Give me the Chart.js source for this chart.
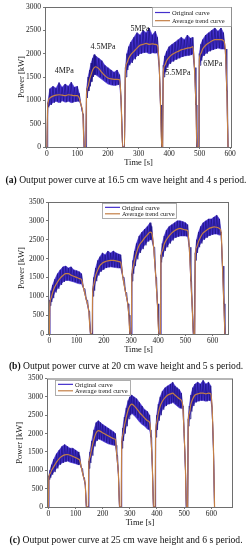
<!DOCTYPE html>
<html>
<head>
<meta charset="utf-8">
<script src="https://cdn.jsdelivr.net/npm/chart.js@4.4.1/dist/chart.umd.min.js"></script>
<style>
  html, body { margin: 0; padding: 0; background: #fff; }
  body { width: 252px; height: 550px; position: relative; overflow: hidden; font-family: "Liberation Serif", "DejaVu Serif", serif; }
  .plot { position: absolute; left: 0; }
  .cap { position: absolute; left: 0; width: 252px; text-align: center; font-size: 9.6px; line-height: 11px; color: #111; white-space: nowrap; }
</style>
</head>
<body>
<canvas id="chartA" class="plot" width="252" height="175" style="top:0"></canvas>
<div class="cap" style="top:174px"><b>(a)</b> Output power curve at 16.5 cm wave height and 4 s period.</div>
<canvas id="chartB" class="plot" width="252" height="175" style="top:185px"></canvas>
<div class="cap" style="top:360px"><b>(b)</b> Output power curve at 20 cm wave height and 5 s period.</div>
<canvas id="chartC" class="plot" width="252" height="160" style="top:372px"></canvas>
<div class="cap" style="top:534px"><b>(c)</b> Output power curve at 25 cm wave height and 6 s period.</div>

<script>
const SERIF = '"Liberation Serif", "DejaVu Serif", serif';

// (a) 16.5 cm, 4 s
const timeA = [0,3,10,20,30,40,50,60,70,80,90,100,106,112,118,122,
  127,130,135,140,145,150,155,160,170,180,190,200,210,220,230,238,243,248,
  254,257,262,268,275,285,295,305,315,325,335,345,355,362,368,372,376,
  379,381,386,392,400,410,420,430,440,450,460,470,478,483,488,491,
  497,499,504,510,520,530,540,550,560,570,578,584,589,593];
const trendA = [0,900,1050,1090,1110,1120,1110,1100,1120,1110,1100,1100,1050,900,700,0,
  0,1150,1300,1450,1550,1650,1700,1720,1680,1600,1530,1480,1460,1450,1450,1440,1000,0,
  0,1600,1800,1900,1980,2050,2120,2180,2200,2220,2200,2210,2200,2180,1700,900,0,
  0,1600,1750,1850,1920,1980,2020,2050,2080,2100,2120,2130,2150,1700,900,0,
  0,1850,2000,2100,2180,2230,2270,2300,2300,2300,2280,2100,1200,0];
const hiA = [0,950,1250,1300,1260,1380,1280,1350,1300,1390,1280,1300,1150,900,700,0,
  0,1250,1500,1650,1800,1900,1980,1950,1900,1850,1750,1700,1650,1600,1650,1550,1000,0,
  0,1700,2000,2150,2250,2350,2450,2400,2500,2450,2550,2400,2480,2350,1700,900,0,
  0,1750,1950,2050,2150,2200,2250,2300,2350,2300,2400,2330,2350,1700,900,0,
  0,2000,2200,2300,2400,2450,2500,2550,2480,2550,2450,2100,1200,0];
const loA = [0,850,900,950,980,950,990,960,980,950,970,980,980,900,700,0,
  0,1050,1200,1300,1400,1500,1550,1550,1500,1450,1400,1350,1330,1320,1330,1350,1000,0,
  0,1500,1650,1750,1800,1880,1950,2000,2020,2030,2000,2020,2010,2030,1700,900,0,
  0,1500,1600,1700,1780,1830,1870,1900,1930,1950,1960,1970,2000,1700,900,0,
  0,1750,1850,1950,2000,2050,2080,2100,2120,2100,2100,2100,1200,0];
const labelsA = ['4MPa', '4.5MPa', '5MPa', '5.5MPa', '6MPa'];
const labelTimeA = [57, 184, 305, 429, 543];
const labelPowerA = [1630, 2140, 2530, 1590, 1780];

// (b) 20 cm, 5 s
const timeB = [0,2,6,12,20,30,40,50,60,70,80,90,100,110,118,126,136,145,151,
  157,159,163,170,178,186,195,205,215,225,235,245,255,262,270,280,288,292,296,
  301,303,307,313,320,330,340,350,360,370,376,383,391,397,402,
  408,410,415,422,430,440,450,460,470,480,490,500,508,514,520,525,529,
  534,536,541,548,556,565,575,585,595,605,615,625,631,636,641,645];
const trendB = [0,800,950,1100,1250,1380,1480,1550,1600,1600,1560,1530,1500,1470,1440,1200,900,600,0,
  0,1100,1300,1550,1700,1820,1880,1920,1940,1950,1950,1940,1920,1900,1500,1100,800,500,0,
  0,1500,1750,1950,2150,2350,2450,2550,2630,2700,2680,2300,1500,800,0,
  0,2000,2200,2380,2500,2600,2680,2740,2780,2800,2780,2760,2740,2300,1400,700,0,
  0,2050,2300,2450,2580,2680,2740,2790,2820,2840,2830,2800,2700,1800,800,0];
const hiB = [0,900,1150,1300,1450,1600,1700,1780,1800,1750,1780,1700,1680,1650,1600,1200,900,600,0,
  0,1200,1500,1750,1950,2050,2150,2100,2200,2150,2200,2150,2120,2100,1500,1100,800,500,0,
  0,1600,1950,2200,2400,2600,2700,2780,2850,2950,2850,2300,1500,800,0,
  0,2100,2400,2600,2750,2850,2900,2950,3000,3000,2980,2950,2900,2300,1400,700,0,
  0,2150,2500,2700,2850,2950,3000,3050,3050,3100,3150,3050,2700,1800,800,0];
const loB = [0,750,850,950,1100,1200,1300,1380,1420,1420,1400,1380,1350,1330,1330,1200,900,600,0,
  0,1000,1150,1400,1550,1650,1700,1750,1770,1780,1770,1760,1750,1750,1500,1100,800,500,0,
  0,1400,1600,1800,1980,2150,2250,2350,2450,2500,2500,2300,1500,800,0,
  0,1900,2050,2200,2300,2400,2480,2550,2580,2600,2600,2600,2580,2300,1400,700,0,
  0,1950,2150,2300,2400,2500,2550,2600,2630,2650,2650,2620,2700,1800,800,0];

// (c) 25 cm, 6 s
const timeC = [0,2,6,12,20,30,40,50,60,70,80,90,100,110,115,122,130,136,140,
  147,149,153,160,168,176,184,192,200,210,220,230,240,247,252,258,262,
  268,270,274,280,287,294,300,307,315,325,335,345,355,365,373,378,383,387,
  393,395,399,405,412,420,430,440,450,458,466,474,482,490,495,500,505,508,
  513,515,519,525,532,540,550,560,570,580,590,598,603,608,612];
const trendC = [0,800,900,1000,1100,1220,1320,1380,1420,1430,1410,1380,1350,1310,1280,1050,800,600,0,
  0,1150,1350,1600,1850,2020,2080,2060,2020,1980,1940,1900,1860,1840,1400,900,0,
  0,1700,1950,2200,2450,2650,2750,2800,2760,2680,2580,2500,2420,2350,2300,1900,1100,0,
  0,2000,2300,2550,2750,2880,2980,3050,3080,3100,3050,3000,2950,2900,2750,2000,1000,0,
  0,2300,2550,2800,2950,3050,3080,3100,3100,3080,3100,3080,2700,1600,0];
const hiC = [0,850,1000,1150,1300,1450,1550,1650,1700,1650,1600,1600,1550,1500,1400,1050,800,600,0,
  0,1250,1500,1800,2100,2300,2350,2300,2250,2200,2150,2100,2050,2000,1400,900,0,
  0,1800,2150,2450,2700,2900,3000,3050,3000,2950,2850,2750,2650,2600,2500,1900,1100,0,
  0,2100,2500,2800,3000,3150,3250,3300,3350,3400,3300,3250,3200,3100,2750,2000,1000,0,
  0,2400,2750,3050,3250,3350,3400,3350,3450,3350,3400,3300,2700,1600,0];
const loC = [0,750,800,880,950,1050,1150,1200,1230,1250,1220,1200,1180,1150,1180,1050,800,600,0,
  0,1050,1200,1400,1650,1800,1850,1830,1800,1760,1720,1700,1680,1680,1400,900,0,
  0,1600,1800,2000,2200,2400,2500,2550,2500,2420,2320,2250,2200,2120,2100,1900,1100,0,
  0,1900,2100,2350,2500,2650,2750,2800,2820,2850,2800,2750,2700,2680,2750,2000,1000,0,
  0,2200,2400,2600,2750,2850,2880,2900,2900,2880,2900,2900,2700,1600,0];

const ORIG_COLOR = '#4430cc';
const ORIG_DARK = '#1d1282';
const TREND_COLOR = '#c47f45';

function toPoints(t, v) {
    return t.map((x, i) => ({ x: x, y: v[i] }));
}

// the raw signal: alternate between the upper and lower envelope
function zigzag(t, hi, lo) {
    const pts = [];
    for (let i = 0; i < t.length; i++) {
        pts.push({ x: t[i], y: hi[i] });
        if (i < t.length - 1) pts.push({ x: (t[i] + t[i + 1]) / 2, y: lo[i] });
    }
    return pts;
}

const frameAndText = {
    id: 'frameAndText',
    afterDraw(chart, args, opts) {
        const ctx = chart.ctx;
        const a = chart.chartArea;
        ctx.save();
        ctx.strokeStyle = '#6e6e6e';
        ctx.lineWidth = 1;
        ctx.strokeRect(a.left + 0.5, a.top + 0.5, a.right - a.left - 1, a.bottom - a.top);

        ctx.fillStyle = '#151515';
        ctx.font = `8.5px ${SERIF}`;
        ctx.textAlign = 'center';
        ctx.textBaseline = 'middle';
        ctx.fillText('Time [s]', (a.left + a.right) / 2, opts.xTitleY);
        ctx.save();
        ctx.translate(opts.yTitleX, (a.top + a.bottom) / 2);
        ctx.rotate(-Math.PI / 2);
        ctx.fillText('Power [kW]', 0, 0);
        ctx.restore();

        // legend box
        const lg = opts.legend;
        ctx.fillStyle = '#fff';
        ctx.fillRect(lg.x, lg.y, lg.w, lg.h);
        ctx.strokeStyle = '#9a9a9a';
        ctx.lineWidth = 0.8;
        ctx.strokeRect(lg.x + 0.5, lg.y + 0.5, lg.w, lg.h);
        const rows = [lg.y + lg.h * 0.29, lg.y + lg.h * 0.72];
        const names = ['Original curve', 'Average trend curve'];
        const colors = [ORIG_COLOR, TREND_COLOR];
        ctx.font = `6.5px ${SERIF}`;
        ctx.textAlign = 'left';
        rows.forEach((ry, i) => {
            ctx.strokeStyle = colors[i];
            ctx.lineWidth = 1.2;
            ctx.beginPath();
            ctx.moveTo(lg.x + 3, ry);
            ctx.lineTo(lg.x + 18, ry);
            ctx.stroke();
            ctx.fillStyle = '#222';
            ctx.fillText(names[i], lg.x + 20, ry + 0.5);
        });

        if (opts.notes) {
            const xs = chart.scales.x, ys = chart.scales.y;
            ctx.font = `8px ${SERIF}`;
            ctx.textAlign = 'center';
            ctx.fillStyle = '#151515';
            opts.notes.text.forEach((txt, i) => {
                ctx.fillText(txt, xs.getPixelForValue(opts.notes.t[i]), ys.getPixelForValue(opts.notes.p[i]));
            });
        }
        ctx.restore();
    }
};

function renderPowerChart(canvasId, t, trend, hi, lo, cfg) {
    const canvas = document.getElementById(canvasId);
    if (!canvas) {
        console.warn(`no canvas #${canvasId}`);
        return;
    }
    const tickFont = { family: SERIF, size: 7.5 };
    const plain = (v) => String(v);
    return new Chart(canvas.getContext('2d'), {
        type: 'line',
        data: {
            datasets: [
                {
                    label: 'Average trend curve',
                    data: toPoints(t, trend),
                    borderColor: TREND_COLOR,
                    borderWidth: 1.2,
                    pointRadius: 0,
                    cubicInterpolationMode: 'monotone',
                    fill: false,
                },
                {
                    label: 'Original curve',
                    data: zigzag(t, hi, lo),
                    borderColor: ORIG_DARK,
                    borderWidth: 0.7,
                    pointRadius: 0,
                    tension: 0,
                    fill: false,
                },
                {
                    label: 'upper',
                    data: toPoints(t, hi),
                    borderColor: ORIG_COLOR,
                    borderWidth: 0.6,
                    backgroundColor: ORIG_COLOR,
                    pointRadius: 0,
                    tension: 0,
                    fill: '+1',
                },
                {
                    label: 'lower',
                    data: toPoints(t, lo),
                    borderColor: ORIG_COLOR,
                    borderWidth: 0.6,
                    pointRadius: 0,
                    tension: 0,
                    fill: false,
                },
            ],
        },
        options: {
            responsive: false,
            animation: false,
            layout: { padding: { left: 0, right: cfg.padRight, top: cfg.padTop, bottom: 0 } },
            plugins: {
                legend: { display: false },
                tooltip: { enabled: false },
                frameAndText: {
                    xTitleY: cfg.xTitleY,
                    yTitleX: cfg.yTitleX,
                    legend: cfg.legend,
                    notes: cfg.notes,
                },
            },
            scales: {
                x: {
                    type: 'linear',
                    min: cfg.xMin,
                    max: cfg.xMax,
                    ticks: { stepSize: 100, includeBounds: false, font: tickFont, color: '#1a1a1a', padding: 1, maxRotation: 0, autoSkip: false, callback: plain },
                    grid: { drawOnChartArea: false, tickLength: 2, color: '#777' },
                    border: { display: false },
                    afterFit: (s) => { s.height = cfg.xHeight; },
                },
                y: {
                    min: 0,
                    max: cfg.yMax,
                    ticks: { stepSize: 500, font: tickFont, color: '#1a1a1a', padding: 2, callback: plain },
                    grid: { drawOnChartArea: false, tickLength: 2, color: '#777' },
                    border: { display: false },
                    afterFit: (s) => { s.width = cfg.yWidth; },
                },
            },
        },
        plugins: [frameAndText],
    });
}

renderPowerChart('chartA', timeA, trendA, hiA, loA, {
    xMin: -6, xMax: 606, yMax: 3000,
    padTop: 7, padRight: 20, yWidth: 45, xHeight: 28,
    xTitleY: 163, yTitleX: 22,
    legend: { x: 152, y: 7, w: 79, h: 19 },
    notes: { text: labelsA, t: labelTimeA, p: labelPowerA },
});

renderPowerChart('chartB', timeB, trendB, hiB, loB, {
    xMin: -5, xMax: 660, yMax: 3500,
    padTop: 17, padRight: 23, yWidth: 48, xHeight: 26,
    xTitleY: 165, yTitleX: 22,
    legend: { x: 102, y: 18, w: 74, h: 15 },
});

renderPowerChart('chartC', timeC, trendC, hiC, loC, {
    xMin: -5, xMax: 680, yMax: 3500,
    padTop: 6, padRight: 19, yWidth: 47, xHeight: 25,
    xTitleY: 151, yTitleX: 20,
    legend: { x: 55, y: 8, w: 75, h: 15 },
});
</script>
</body>
</html>
